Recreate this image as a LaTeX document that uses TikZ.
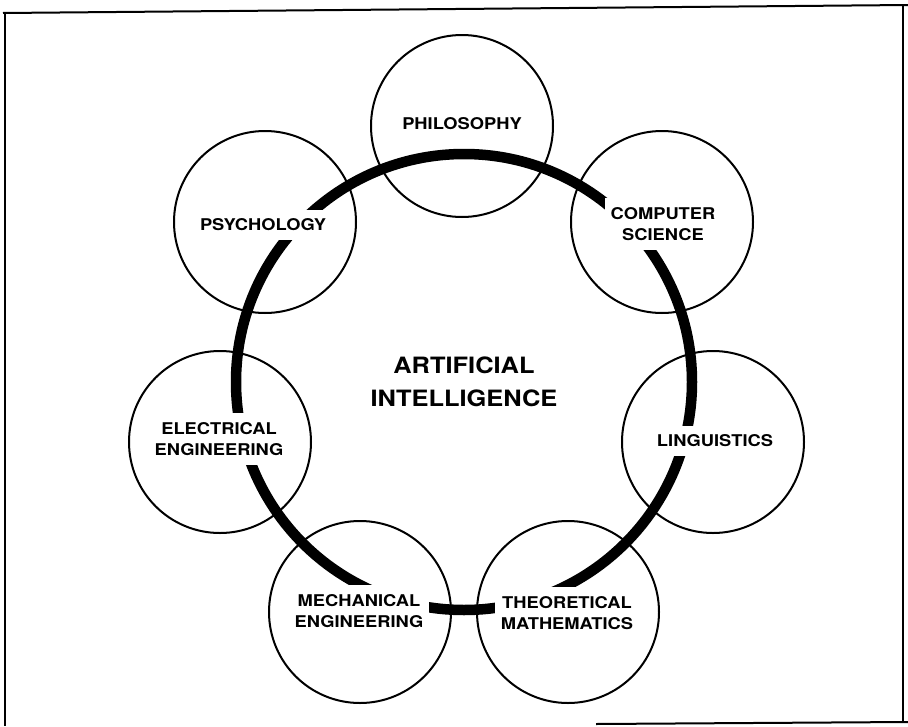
\documentclass[tikz,border=0pt]{standalone}
\usepackage{fontspec}
\setmainfont{TeX Gyre Heros}
\newfontfamily\tagfont[FakeStretch=1.13]{TeX Gyre Heros}

\tikzset{
  field/.style={draw, circle, line width=2, minimum size=182, inner sep=0},
  tag/.style={fill=white, align=center, inner xsep=6, inner ysep=9,
    font=\tagfont\bfseries\fontsize{16.2}{21}\selectfont},
  ring/.style={line width=10.5},
  frame/.style={line width=2}
}

\begin{document}
\begin{tikzpicture}[x=1pt, y=-1pt]

\useasboundingbox (0,0) rectangle (908,726);

% frame

\draw[frame] (3,13) -- (908,5);
\draw[frame] (5,12) -- (5,726);
\draw[frame] (903,5) -- (903,723);
\draw[frame] (596,724) -- (908,722);

% centre

\node[align=center, font=\tagfont\bfseries\fontsize{22.5}{33}\selectfont] (ai) at (464, 382) {ARTIFICIAL\\INTELLIGENCE};

% ring

\draw[ring] (ai.center) circle (228);

% labels

\node[tag] (t0) at (462, 124) {PHILOSOPHY};
\node[tag] (t1) at (663, 224) {COMPUTER\\SCIENCE};
\node[tag] (t2) at (715, 441) {LINGUISTICS};
\node[tag] (t3) at (567, 613) {THEORETICAL\\MATHEMATICS};
\node[tag] (t4) at (359, 611) {MECHANICAL\\ENGINEERING};
\node[tag] (t5) at (219, 439) {ELECTRICAL\\ENGINEERING};
\node[tag] (t6) at (263, 225) {PSYCHOLOGY};

% circles

\node[field] (c0) at (462, 126) {};
\node[field] (c1) at (662, 222) {};
\node[field] (c2) at (713, 442) {};
\node[field] (c3) at (568, 612) {};
\node[field] (c4) at (360, 612) {};
\node[field] (c5) at (220, 442) {};
\node[field] (c6) at (265, 222) {};

\end{tikzpicture}
\end{document}
